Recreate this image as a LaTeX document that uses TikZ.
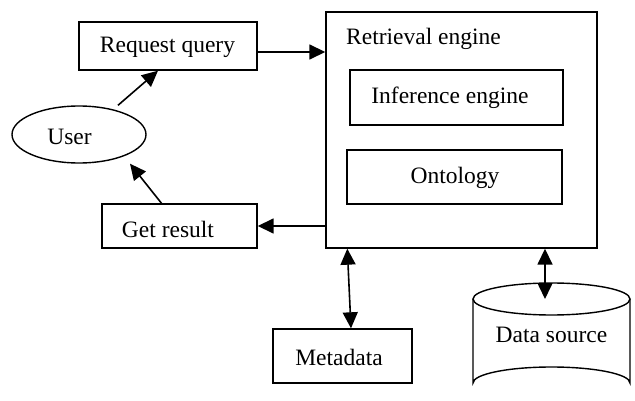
\documentclass[tikz,border=0pt]{standalone}
\usepackage{fontspec}
\setmainfont{Liberation Serif}
\usetikzlibrary{shapes.geometric,arrows.meta,calc}
\begin{document}
\begin{tikzpicture}[x=1pt,y=-1pt,
  every node/.style={font=\fontsize{23.5}{27}\selectfont, inner sep=0pt},
  box/.style={draw, line width=1.4pt, rectangle},
  lbl/.style={anchor=center},
  arr/.style={line width=1.6pt, -{Triangle[length=16pt,width=15pt]}},
  darr/.style={line width=1.6pt, {Triangle[length=16pt,width=15pt]}-{Triangle[length=16pt,width=15pt]}}]
\useasboundingbox (0,0) rectangle (635,401);
% boxes
\node[box, minimum width=178pt, minimum height=48pt] (reqq) at (168,46) {};
\node[lbl] at (167.5,47) {Request query};
\node[draw, line width=1.4pt, ellipse, minimum width=134pt, minimum height=57pt] (user) at (79,134.5) {};
\node[lbl] at (69.5,137) {User};
\node[box, minimum width=155pt, minimum height=44pt] (getr) at (179.5,226) {};
\node[lbl] at (168,229) {Get result};
\node[box, minimum width=271pt, minimum height=236pt] (ret) at (461.5,130) {};
\node[anchor=west] (rettxt) at (346,39) {Retrieval engine};
\node[box, minimum width=213pt, minimum height=55pt] (inf) at (456.5,97.5) {};
\node[lbl] at (450,98) {Inference engine};
\node[box, minimum width=215pt, minimum height=54pt] (ont) at (454.5,177) {};
\node[lbl] at (455,178) {Ontology};
\node[box, minimum width=139pt, minimum height=54pt] (meta) at (342.5,356) {};
\node[lbl] at (339,357) {Metadata};
% cylinder
\coordinate (dstop) at (551.5,299);
\draw[line width=1.4pt] (dstop) ellipse [x radius=78.5, y radius=16];
\draw[line width=1.4pt] (473,299) -- (473,383) arc[start angle=180, end angle=360, x radius=78.5, y radius=16] -- (630,299);
\node[lbl] (dstxt) at (551.5,335) {Data source};
% connectors
\draw[arr] ([xshift=39pt]user.north) -- ([xshift=-10pt]reqq.south);
\draw[arr] ([xshift=-18pt]getr.north) -- ([xshift=51pt]user.south);
\draw[arr] ([yshift=-6pt]reqq.east) -- ([yshift=-6pt]reqq.east -| ret.west);
\draw[arr] (ret.west |- getr.east) -- (getr.east);
\draw[darr] ([xshift=22pt]ret.south west) -- ([xshift=8.5pt]meta.north);
\draw[darr] ([xshift=83.5pt]ret.south) -- ([xshift=-6.5pt]dstop);
\end{tikzpicture}
\end{document}
